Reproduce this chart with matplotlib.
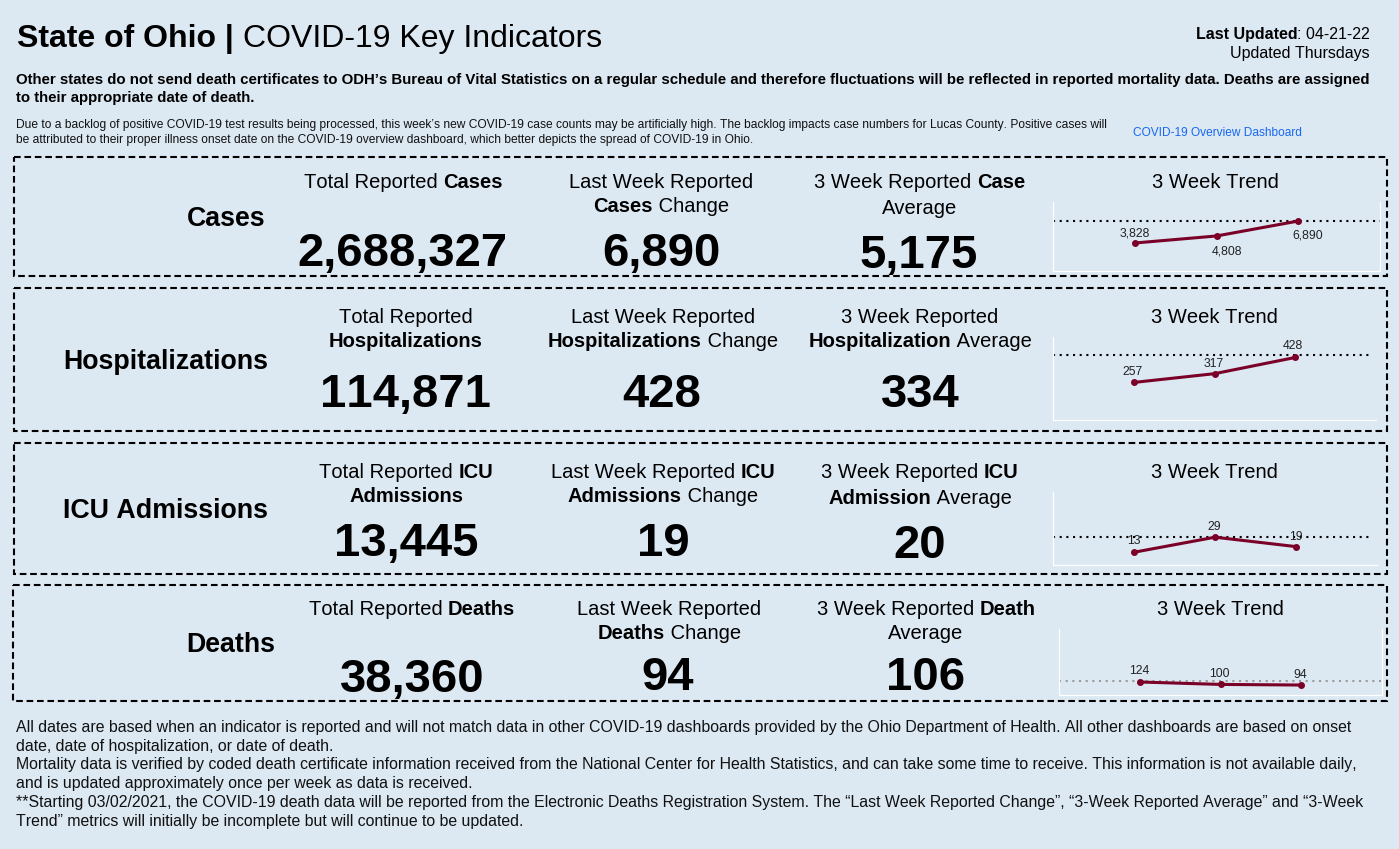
import numpy as np
import matplotlib
matplotlib.use("Agg")
import matplotlib.pyplot as plt
from matplotlib.patches import Rectangle


W, H = 1399, 849            # picture size in pixels
BG = "#dce8f2"              # light blue of the dashboard
LINE = "#7b0028"            # maroon trend line


def mixed_text(ax, x, y, parts, size, ha="center"):
    '''
    Parameters
    ----------
    ax : page axes in pixel coordinates
    x, y : anchor and baseline of the line
    parts : list of (string, is_bold) pieces of the line
    size : font size in points
    ha : "left", "center" or "right"
    '''
    renderer = ax.figure.canvas.get_renderer()

    def width(s, weight):
        # the dot keeps trailing spaces in the measure
        t1 = ax.text(0, 0, s + ".", fontsize=size, fontweight=weight)
        t2 = ax.text(0, 0, ".", fontsize=size, fontweight=weight)
        w = t1.get_window_extent(renderer).width - t2.get_window_extent(renderer).width
        t1.remove()
        t2.remove()
        return w

    weights = ["bold" if b else "normal" for _, b in parts]
    widths = [width(s, w) for (s, _), w in zip(parts, weights)]
    total = sum(widths)
    if ha == "center":
        x = x - total / 2
    elif ha == "right":
        x = x - total
    for (s, _), w, dx in zip(parts, weights, widths):
        ax.text(x, y, s, fontsize=size, fontweight=w, ha="left", va="baseline", color="black")
        x += dx


def trend(box, values, ref, y_top, offsets, ref_color="black", ref_end=None, right_spine=True):
    '''
    box : left, right, top, bottom of the small axes in pixels
    values : the three weekly values
    ref : height of the dotted line
    y_top : upper limit of the value axis
    offsets : pixel offset of each value label
    '''
    left, right, top, bottom = box
    ax = plt.axes([left / W, 1 - bottom / H, (right - left) / W, (bottom - top) / H], facecolor="none")
    x = np.arange(3)
    ax.set_xlim(-1, 3)
    ax.set_ylim(0, y_top)
    ax.plot(x, values, "-o", color=LINE, lw=2.2, markersize=4, zorder=3)
    x_end = 3 if ref_end is None else ref_end
    ax.plot([-1, x_end], [ref, ref], color=ref_color, lw=1.5, dashes=(1, 2.2), zorder=2)
    for i, v in enumerate(values):
        ax.annotate(f"{v:,}", (x[i], v), xytext=offsets[i], textcoords="offset pixels",
                    fontsize=8.8, ha="center", va="baseline", color="#222222", zorder=4)
    ax.set_xticks([])
    ax.set_yticks([])
    ax.spines["top"].set_visible(False)
    ax.spines["right"].set_visible(right_spine)
    for side in ("left", "right", "bottom"):
        ax.spines[side].set_color("white")
        ax.spines[side].set_linewidth(0.9)
    return ax


plt.rcParams["font.family"] = ["Liberation Sans", "DejaVu Sans"]
plt.rcParams["text.kerning_factor"] = 6    # digits stay evenly spaced

fig = plt.figure(figsize=(W / 100, H / 100), dpi=100, facecolor=BG)
page = plt.axes([0, 0, 1, 1], facecolor=BG)
page.set_xlim(0, W)
page.set_ylim(H, 0)         # y runs downward like the picture
page.axis("off")

### heading ###
mixed_text(page, 17, 47, [("State of Ohio | ", True), ("COVID-19 Key Indicators", False)], 23, ha="left")
mixed_text(page, 1370, 39, [("Last Updated", True), (": 04-21-22", False)], 11.5, ha="right")
page.text(1370, 58, "Updated Thursdays", fontsize=11.5, ha="right", va="baseline")

bold_note = ["Other states do not send death certificates to ODH’s Bureau of Vital Statistics on a regular schedule and therefore fluctuations will be reflected in reported mortality data. Deaths are assigned",
             "to their appropriate date of death."]
for y, line in zip([84, 102], bold_note):
    page.text(16, y, line, fontsize=10.83, fontweight="bold", va="baseline")

small_note = ["Due to a backlog of positive COVID-19 test results being processed, this week’s new COVID-19 case counts may be artificially high. The backlog impacts case numbers for Lucas County. Positive cases will",
              "be attributed to their proper illness onset date on the COVID-19 overview dashboard, which better depicts the spread of COVID-19 in Ohio."]
for y, line in zip([128, 143], small_note):
    page.text(16, y, line, fontsize=8.63, va="baseline", color="#111111")
page.text(1133, 136, "COVID-19 Overview Dashboard", fontsize=8.6, color="#1668f0", va="baseline")

### dashed boxes ###
boxes = [(14, 157, 1386.5, 276), (14, 288, 1386.5, 431), (14, 443, 1386.5, 574), (12.5, 585, 1387, 701)]
for x0, y0, x1, y1 in boxes:
    page.add_patch(Rectangle((x0, y0), x1 - x0, y1 - y0, fill=False, edgecolor="black", lw=1.5,
                             linestyle=(0, (3.2, 1.8))))

### labels of the rows ###
rows = [("Cases", 265, 226), ("Hospitalizations", 268, 369), ("ICU Admissions", 268, 518), ("Deaths", 275, 652)]
for name, x, y in rows:
    page.text(x, y, name, fontsize=19.3, fontweight="bold", ha="right", va="baseline")

### column headers: x, baseline, pieces ###
headers = [
    (403, 188, [("Total Reported ", False), ("Cases", True)]),
    (661, 188, [("Last Week Reported", False)]),
    (661, 212, [("Cases", True), (" Change", False)]),
    (920, 188, [("3 Week Reported ", False), ("Case", True)]),
    (920, 214, [("Average", False)]),
    (1215, 188, [("3 Week Trend", False)]),
    (406, 323, [("Total Reported", False)]),
    (406, 347, [("Hospitalizations", True)]),
    (663, 323, [("Last Week Reported", False)]),
    (663, 347, [("Hospitalizations", True), (" Change", False)]),
    (920, 323, [("3 Week Reported", False)]),
    (920, 347, [("Hospitalization", True), (" Average", False)]),
    (1214, 323, [("3 Week Trend", False)]),
    (406, 478, [("Total Reported ", False), ("ICU", True)]),
    (406, 502, [("Admissions", True)]),
    (663, 478, [("Last Week Reported ", False), ("ICU", True)]),
    (663, 502, [("Admissions", True), (" Change", False)]),
    (920, 478, [("3 Week Reported ", False), ("ICU", True)]),
    (920, 504, [("Admission", True), (" Average", False)]),
    (1214, 478, [("3 Week Trend", False)]),
    (412, 615, [("Total Reported ", False), ("Deaths", True)]),
    (669, 615, [("Last Week Reported", False)]),
    (669, 639, [("Deaths", True), (" Change", False)]),
    (926, 615, [("3 Week Reported ", False), ("Death", True)]),
    (926, 639, [("Average", False)]),
    (1220, 615, [("3 Week Trend", False)]),
]
for x, y, parts in headers:
    mixed_text(page, x, y, parts, 14.5)

### big numbers ###
numbers = [
    (402, 266, 2688327), (661, 266, 6890), (919, 268, 5175),
    (405, 407, 114871), (662, 407, 428), (920, 407, 334),
    (406, 556, 13445), (663, 556, 19), (920, 558, 20),
    (412, 692, 38360), (668, 690, 94), (926, 690, 106),
]
for x, y, v in numbers:
    page.text(x, y, f"{v:,}", fontsize=34, fontweight="bold", ha="center", va="baseline")

### footer ###
footer = ["All dates are based when an indicator is reported and will not match data in other COVID-19 dashboards provided by the Ohio Department of Health. All other dashboards are based on onset",
          "date, date of hospitalization, or date of death.",
          "Mortality data is verified by coded death certificate information received from the National Center for Health Statistics, and can take some time to receive. This information is not available daily,",
          "and is updated approximately once per week as data is received.",
          "**Starting 03/02/2021, the COVID-19 death data will be reported from the Electronic Deaths Registration System. The “Last Week Reported Change”, “3-Week Reported Average” and “3-Week",
          "Trend” metrics will initially be incomplete but will continue to be updated."]
for y, line in zip([732, 751, 769, 788, 807, 826], footer):
    page.text(16, y, line, fontsize=11.43, va="baseline", color="#111111")

### small trend charts ###
trend((1053, 1380, 202, 270.5), [3828, 4808, 6890], 6890, 9540, [(0, 7), (10, -19), (9, -17)])
trend((1053, 1376, 337, 420), [257, 317, 428], 445, 568, [(-1, 7), (-1, 7), (-2, 8)], ref_end=2.95, right_spine=False)
trend((1053, 1377, 492, 564.5), [13, 29, 19], 29, 77, [(0, 8), (-1, 7), (0, 7)], ref_end=2.95, right_spine=False)
trend((1059, 1382, 629, 694.5), [124, 100, 94], 133, 650, [(-1, 8), (-1, 7), (-1, 7)], ref_color="#9a9a9a")

fig.savefig("out.png", dpi=100, facecolor=BG)
